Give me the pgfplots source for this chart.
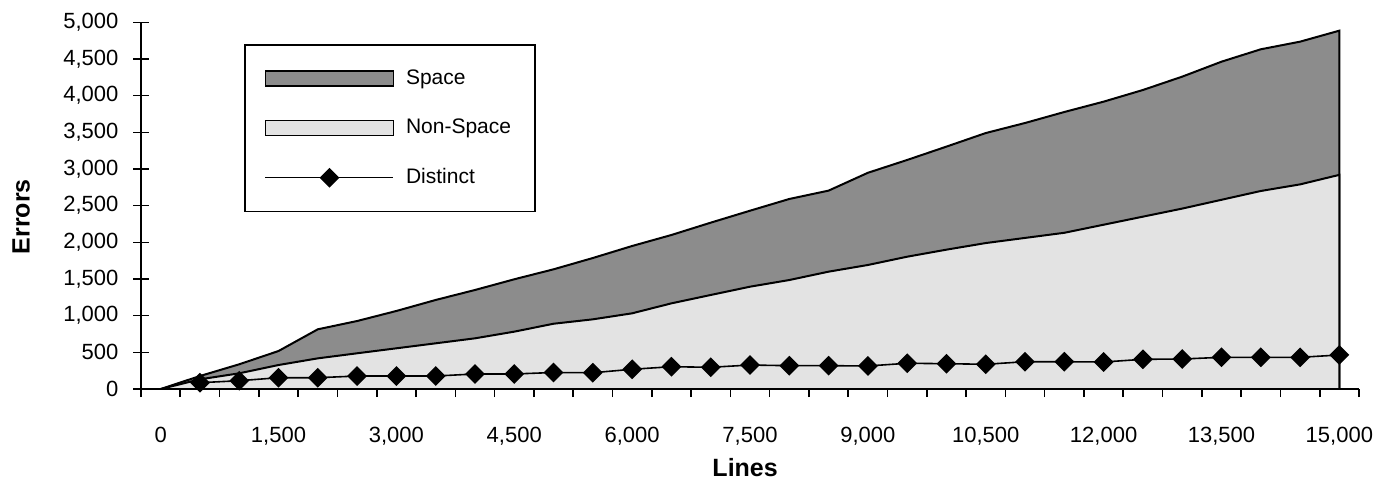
\documentclass[border=0pt]{standalone}
\usepackage{pgfplots}
\pgfplotsset{compat=1.18}
\usepackage{fontspec}
\setmainfont{Liberation Sans}

\pgfplotstableread{
x total nonspace
0 0 0
500 177 132
1000 337 214
1500 518 327
2000 814 418
2500 927 487
3000 1064 555
3500 1214 623
4000 1350 691
4500 1496 782
5000 1632 890
5500 1786 950
6000 1950 1032
6500 2100 1168
7000 2268 1282
7500 2431 1395
8000 2591 1486
8500 2705 1600
9000 2948 1691
9500 3123 1804
10000 3305 1900
10500 3490 1990
11000 3627 2060
11500 3777 2130
12000 3918 2240
12500 4077 2350
13000 4259 2460
13500 4463 2580
14000 4632 2700
14500 4736 2790
15000 4886 2920
}\areadata

\pgfplotstableread{
x distinct
500 86
1000 113
1500 154
2000 154
2500 177
3000 177
3500 177
4000 205
4500 205
5000 225
5500 222
6000 269
6500 304
7000 296
7500 327
8000 318
8500 318
9000 314
9500 351
10000 345
10500 337
11000 372
11500 372
12000 368
12500 405
13000 409
13500 432
14000 432
14500 432
15000 464
}\distinctdata

\begin{document}
\begin{tikzpicture}
\useasboundingbox (-70.5pt,-49.5pt) rectangle (624.5pt,194.5pt);
\begin{axis}[
  at={(0,0)}, anchor=south west,
  scale only axis, width=609pt, height=183.35pt,
  xmin=-250, xmax=15250, ymin=0, ymax=5000,
  axis lines=left,
  axis line style={line width=0.8pt, -},
  xtick={0,1500,...,15000},
  minor xtick={-250,250,...,15250},
  ytick={0,500,...,5000},
  tick align=center,
  major tick length=7.5pt,
  minor tick length=4pt,
  major x tick style={draw=none},
  minor x tick style={line width=0.8pt, black, yshift=-2pt},
  major y tick style={line width=0.8pt, black},
  /pgf/number format/assume math mode=true,
  /pgf/number format/1000 sep={,},
  scaled ticks=false,
  tick label style={font=\fontsize{11}{13}\selectfont},
  xticklabel style={anchor=base, yshift=-23pt},
  yticklabel style={anchor=east, xshift=-4pt},
  xlabel={\textbf{Lines}},
  ylabel={\textbf{Errors}},
  label style={font=\fontsize{12.5}{14}\selectfont},
  xlabel style={at={(axis description cs:0.496,-0.213)}, anchor=center},
  ylabel style={at={(axis description cs:-0.0985,0.47)}, anchor=center, rotate=0},
  legend cell align=left,
  legend style={at={(axis description cs:0.0846,0.941)}, anchor=north west,
    draw=black, line width=0.8pt, inner xsep=10pt, inner ysep=10pt,
    row sep=11pt,
    nodes={inner sep=2pt, text height=7.8pt, text depth=2pt, font=\fontsize{10.5}{12}\selectfont},
    /tikz/every odd column/.append style={column sep=4pt}},
]
\addplot[fill=black!45, draw=black, line width=1pt,
  legend image code/.code={\draw[fill=black!45, draw=black, line width=0.6pt] (0pt,-3.75pt) rectangle (64pt,3.75pt);}]
  table[x=x, y=total] {\areadata} \closedcycle;
\addlegendentry{Space}
\addplot[fill=black!11, draw=black, line width=1pt,
  legend image code/.code={\draw[fill=black!11, draw=black, line width=0.6pt] (0pt,-3.75pt) rectangle (64pt,3.75pt);}]
  table[x=x, y=nonspace] {\areadata} \closedcycle;
\addlegendentry{Non-Space}
\addplot[black, line width=0.8pt, mark=square*, mark size=3.1pt,
  mark options={rotate=45, fill=black},
  legend image code/.code={\draw[black, line width=0.6pt] (0pt,0pt) -- (64pt,0pt);
    \fill[black, rotate around={45:(32pt,0pt)}] (28.9pt,-3.1pt) rectangle (35.1pt,3.1pt);}]
  table[x=x, y=distinct] {\distinctdata};
\addlegendentry{Distinct}
\end{axis}
\end{tikzpicture}
\end{document}
